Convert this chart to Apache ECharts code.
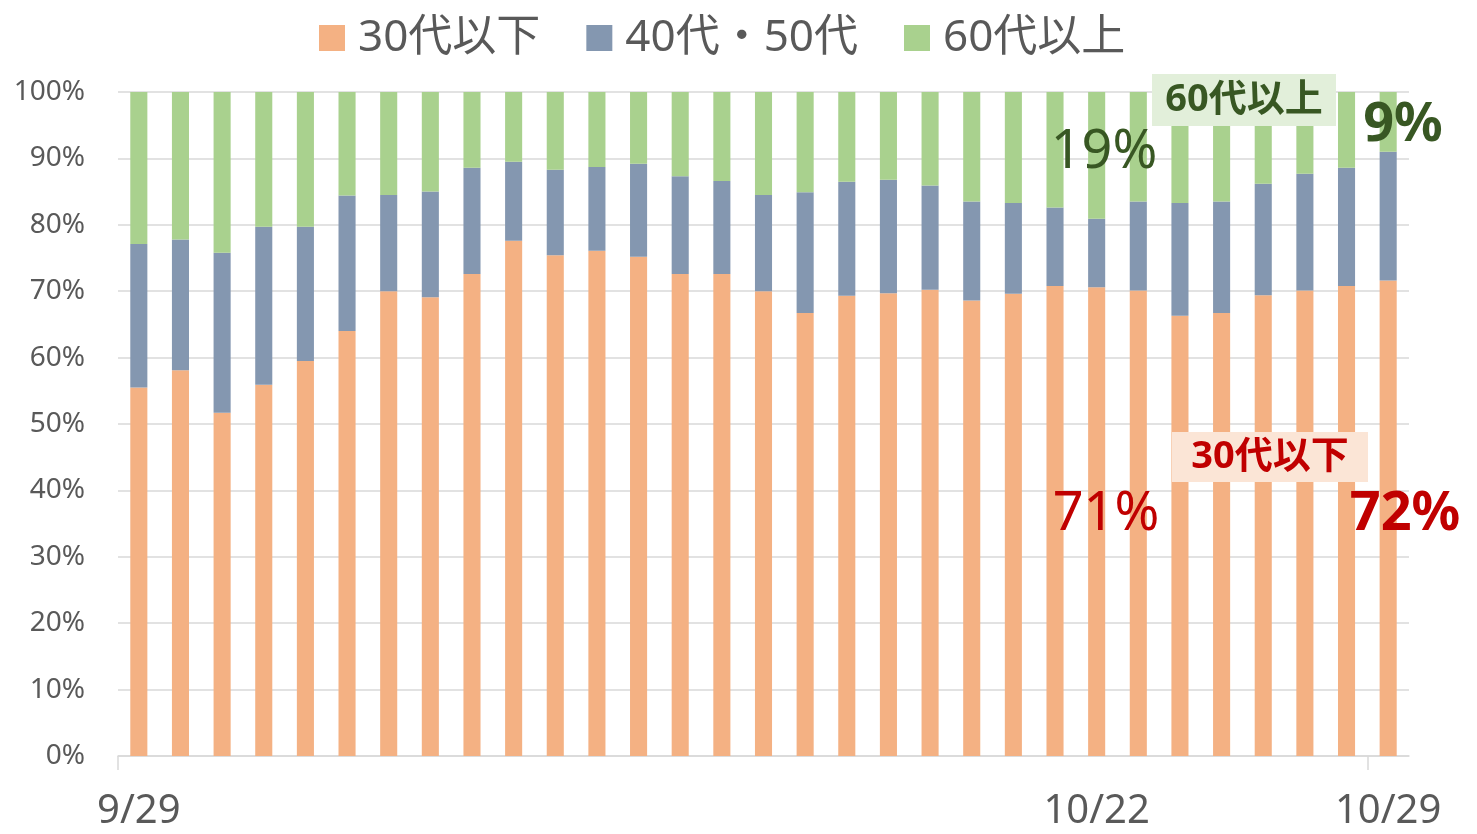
<!DOCTYPE html>
<html>
<head>
<meta charset="utf-8">
<script src="https://cdn.jsdelivr.net/npm/echarts@6/dist/echarts.min.js"></script>
<style>
html,body{margin:0;padding:0;background:#fff;}
#chart{width:1477px;height:834px;}
</style>
</head>
<body>
<div id="chart"></div>
<script>
const categories = ['9/29','9/30','10/1','10/2','10/3','10/4','10/5','10/6','10/7','10/8','10/9','10/10','10/11','10/12','10/13','10/14','10/15','10/16','10/17','10/18','10/19','10/20','10/21','10/22','10/23','10/24','10/25','10/26','10/27','10/28','10/29'];
const seriesNames = ['30代以下','40代・50代','60代以上'];
const under30s = [55.5,58.1,51.7,55.9,59.5,64.0,70.0,69.1,72.6,77.6,75.4,76.1,75.2,72.6,72.6,70.0,66.7,69.3,69.7,70.2,68.6,69.6,70.8,70.6,70.1,66.3,66.7,69.4,70.1,70.8,71.6];
const age40s50s = [21.6,19.7,24.1,23.8,20.2,20.4,14.5,15.9,16.0,11.9,12.9,12.6,14.0,14.7,14.0,14.5,18.2,17.2,17.1,15.7,14.9,13.7,11.8,10.3,13.4,17.0,16.8,16.8,17.6,17.8,19.4];
const over60s = [22.9,22.2,24.2,20.3,20.3,15.6,15.5,15.0,11.4,10.5,11.7,11.3,10.8,12.7,13.4,15.5,15.1,13.5,13.2,14.1,16.5,16.7,17.4,19.1,16.5,16.7,16.5,13.8,12.3,11.4,9.0];
const shownLabels = ['9/29','10/22','10/29'];
const tickAt = ['9/29','10/29'];
const colors = ['#F4B183','#8497B0','#A9D18E'];

const FONT = "'Noto Sans', 'Noto Sans CJK JP', sans-serif";
const chart = echarts.init(document.getElementById('chart'));

// boundary axis: one slot before each day plus the end, used only for tick marks
const boundaries = categories.concat(['end']);

function bar(name, data, color) {
  return {
    name: name, type: 'bar', stack: 'total', data: data, barWidth: '41%',
    itemStyle: { color: color },
    emphasis: { disabled: true },
    animation: false
  };
}

chart.setOption({
  animation: false,
  textStyle: { fontFamily: FONT },
  legend: {
    left: 314, top: 11,
    itemWidth: 26, itemHeight: 26, itemGap: 46,
    icon: 'rect',
    data: seriesNames,
    textStyle: { fontSize: 44, color: '#595959', fontFamily: FONT, padding: [0,0,0,8] }
  },
  grid: { left: 118, right: 68, top: 92, bottom: 78 },
  xAxis: [{
    type: 'category', data: categories,
    boundaryGap: true,
    axisLine: { lineStyle: { color: '#D9D9D9', width: 1.5 } },
    axisTick: { show: false },
    axisLabel: {
      interval: function (i, v) { return shownLabels.indexOf(v) >= 0; },
      fontSize: 40, color: '#595959', margin: 36, fontFamily: FONT
    }
  }, {
    type: 'category', data: boundaries,
    boundaryGap: false, position: 'bottom',
    axisLine: { show: false },
    axisLabel: { show: false },
    splitLine: { show: false },
    axisTick: {
      show: true, length: 14, lineStyle: { color: '#D9D9D9', width: 1.5 },
      interval: function (i, v) { return tickAt.indexOf(v) >= 0; }
    }
  }],
  yAxis: {
    type: 'value', min: 0, max: 100, interval: 10,
    axisLine: { show: false }, axisTick: { show: false },
    splitLine: { lineStyle: { color: '#D9D9D9', width: 1.5 } },
    axisLabel: { formatter: '{value}%', fontSize: 28, color: '#595959', margin: 33, fontFamily: FONT }
  },
  series: [
    bar(seriesNames[0], under30s, colors[0]),
    bar(seriesNames[1], age40s50s, colors[1]),
    bar(seriesNames[2], over60s, colors[2])
  ],
  graphic: [
    { type: 'rect', shape: { x: 1152, y: 74, width: 184, height: 52 }, style: { fill: '#E2EFDA' }, z: 100 },
    { type: 'text', x: 1244, y: 100, z: 101, style: { text: '60代以上', fontSize: 38, fontWeight: 'bold', fill: '#385723', align: 'center', verticalAlign: 'middle', fontFamily: FONT } },
    { type: 'text', x: 1104, y: 153, z: 101, style: { text: '19%', fontSize: 54, fill: '#385723', align: 'center', verticalAlign: 'middle', fontFamily: FONT } },
    { type: 'text', x: 1403, y: 126, z: 101, style: { text: '9%', fontSize: 54, fontWeight: 'bold', fill: '#385723', align: 'center', verticalAlign: 'middle', fontFamily: FONT } },
    { type: 'rect', shape: { x: 1172, y: 432, width: 196, height: 50 }, style: { fill: '#FBE5D6' }, z: 100 },
    { type: 'text', x: 1270, y: 457, z: 101, style: { text: '30代以下', fontSize: 38, fontWeight: 'bold', fill: '#C00000', align: 'center', verticalAlign: 'middle', fontFamily: FONT } },
    { type: 'text', x: 1106, y: 515, z: 101, style: { text: '71%', fontSize: 54, fill: '#C00000', align: 'center', verticalAlign: 'middle', fontFamily: FONT } },
    { type: 'text', x: 1405, y: 515, z: 101, style: { text: '72%', fontSize: 54, fontWeight: 'bold', fill: '#C00000', align: 'center', verticalAlign: 'middle', fontFamily: FONT } }
  ]
});
</script>
</body>
</html>
